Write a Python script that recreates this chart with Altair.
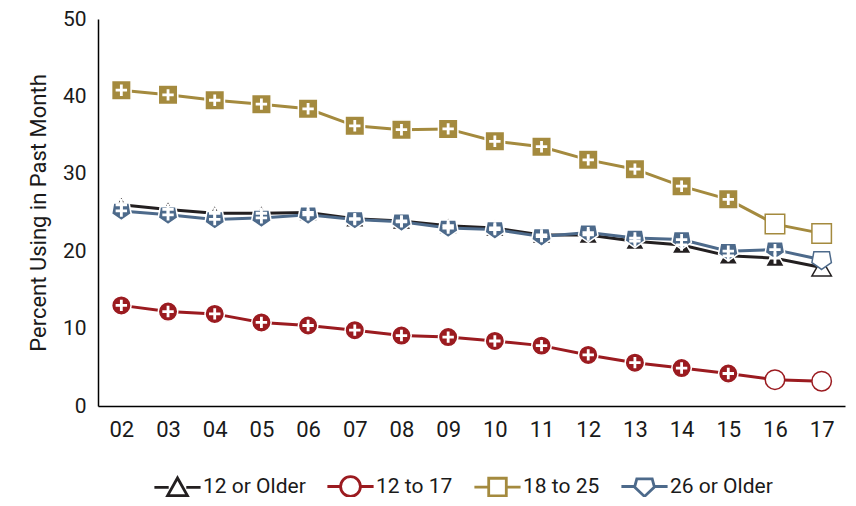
import altair as alt
import pandas as pd

years = ["02", "03", "04", "05", "06", "07", "08", "09", "10", "11", "12", "13", "14", "15", "16", "17"]
groups = ["12 or Older", "12 to 17", "18 to 25", "26 or Older"]
colors = ["#231f20", "#9b1b20", "#a48a3e", "#4d6a8b"]

older12 = [26.0, 25.4, 24.9, 24.9, 25.0, 24.2, 23.9, 23.3, 23.0, 22.1, 22.1, 21.3, 20.8, 19.4, 19.1, 17.9]
age12_17 = [13.0, 12.2, 11.9, 10.8, 10.4, 9.8, 9.1, 8.9, 8.4, 7.8, 6.6, 5.6, 4.9, 4.2, 3.4, 3.2]
age18_25 = [40.8, 40.2, 39.5, 39.0, 38.4, 36.2, 35.7, 35.8, 34.2, 33.5, 31.8, 30.6, 28.4, 26.7, 23.5, 22.3]
older26 = [25.2, 24.7, 24.1, 24.3, 24.7, 24.1, 23.8, 23.0, 22.8, 21.9, 22.4, 21.7, 21.5, 20.0, 20.2, 18.9]
# last year whose estimate differs significantly from 2017 (marked "+")
sig_last = {"12 or Older": "16", "12 to 17": "15", "18 to 25": "15", "26 or Older": "16"}

series = {"12 or Older": older12, "12 to 17": age12_17, "18 to 25": age18_25, "26 or Older": older26}
rows = []
for g in groups:
    for y, v in zip(years, series[g]):
        rows.append({"year": y, "group": g, "value": v, "sig": y <= sig_last[g]})
df = pd.DataFrame(rows)

pent = "M0,1 L1,0.3 L0.8,-0.82 L-0.8,-0.82 L-1,0.3 Z"
marker_shapes = ["triangle-up", "circle", "square", pent]
plus = "M-1,0 L1,0 M0,-1 L0,1"

legend_shapes = [
    "M-2.1,0 L-0.8,0 M0.8,0 L2.1,0 M0,-0.85 L0.9,0.75 L-0.9,0.75 Z",
    "M-2.1,0 L-0.9,0 M0.9,0 L2.1,0 M0.9,0 A0.9,0.9 0 1,1 -0.9,0 A0.9,0.9 0 1,1 0.9,0 Z",
    "M-2.1,0 L-0.8,0 M0.8,0 L2.1,0 M-0.8,-0.8 L0.8,-0.8 L0.8,0.8 L-0.8,0.8 Z",
    "M-2.1,0 L-0.9,0 M0.9,0 L2.1,0 M0,0.9 L0.9,0.05 L0.7,-0.7 L-0.7,-0.7 L-0.9,0.05 Z",
]

FONT = "Roboto, Liberation Sans, sans-serif"

xenc = alt.X("year:O", scale=alt.Scale(type="point", padding=0.5, domain=years),
             axis=alt.Axis(title=None, labelAngle=0, ticks=False, domainColor="#000",
                           domainWidth=1.5, labelFontSize=22, labelPadding=13,
                           labelColor="#1a1a1a", labelFont=FONT))
yenc = alt.Y("value:Q", scale=alt.Scale(domain=[0, 50]),
             axis=alt.Axis(title="Percent Using in Past Month", values=[0, 10, 20, 30, 40, 50],
                           grid=False, ticks=False, domainColor="#000", domainWidth=1.5,
                           labelFontSize=21, labelPadding=12, labelColor="#1a1a1a", labelFont=FONT,
                           titleFont=FONT, titleFontSize=22, titleFontWeight="normal",
                           titleColor="#1a1a1a", titlePadding=12))

cscale = alt.Scale(domain=groups, range=colors)
base = alt.Chart(df)

lines = base.mark_line(strokeWidth=3).encode(
    x=xenc, y=yenc,
    stroke=alt.Stroke("group:N", scale=cscale, legend=None),
)

points = base.mark_point(filled=True, size=380, opacity=1, strokeWidth=1.5).encode(
    x=xenc, y=yenc,
    shape=alt.Shape("group:N", scale=alt.Scale(domain=groups, range=marker_shapes), legend=None),
    fill=alt.condition("datum.sig", alt.Fill("group:N", scale=cscale, legend=None), alt.value("white")),
    stroke=alt.condition("datum.sig", alt.value("white"), alt.Stroke("group:N", scale=cscale, legend=None)),
)

pluses = base.transform_filter("datum.sig").mark_point(
    shape=plus, size=130, filled=False, stroke="white", strokeWidth=2.8, opacity=1
).encode(x=xenc, y=yenc)

leg = alt.Legend(title=None, orient="none", legendX=55, legendY=455, direction="horizontal",
                 columns=4, padding=0, labelFontSize=21, labelFont=FONT, labelColor="#1a1a1a",
                 symbolSize=484, symbolStrokeWidth=2.8, symbolOffset=12, labelOffset=13,
                 columnPadding=15, symbolFillColor="white")

legend_layer = base.mark_point(filled=False, opacity=0).encode(
    x=xenc, y=yenc,
    color=alt.Color("group:N", scale=cscale, legend=leg),
    shape=alt.Shape("group:N", scale=alt.Scale(domain=groups, range=legend_shapes), legend=leg),
)

chart = alt.layer(lines, points, pluses, legend_layer).resolve_scale(
    shape="independent", color="independent"
).properties(
    width=747, height=387,
    autosize=alt.AutoSizeParams(type="none"),
    padding={"left": 90, "top": 11, "right": 3, "bottom": 91},
).configure_view(stroke=None)

chart.save("out.html", embed_options={"renderer": "svg", "actions": False})
